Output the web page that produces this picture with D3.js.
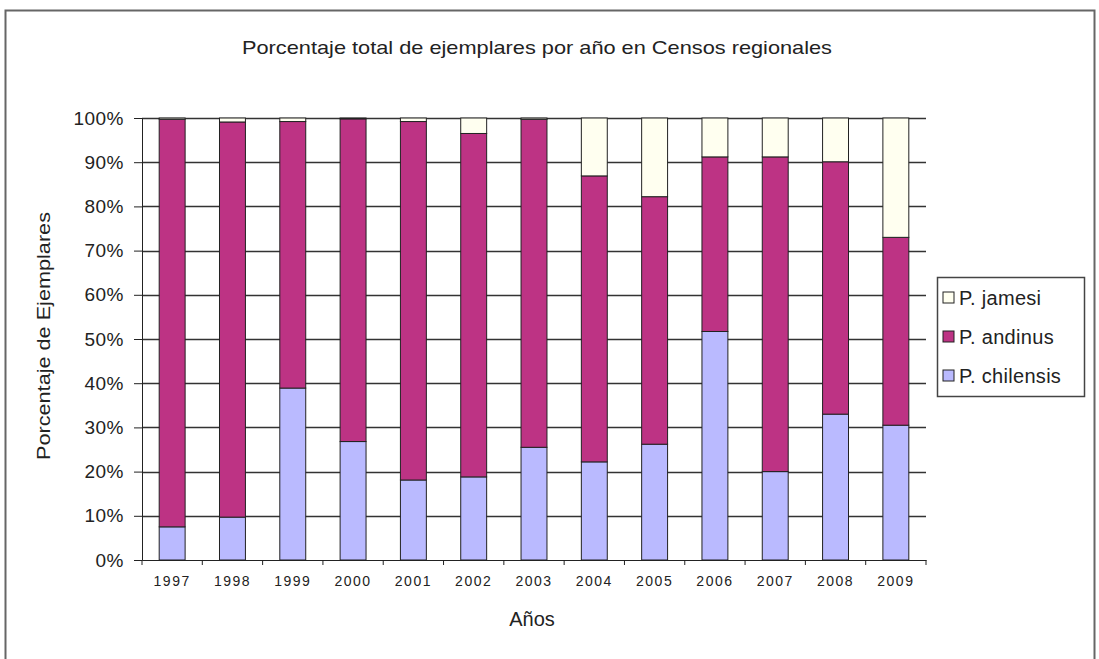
<!DOCTYPE html>
<html>
<head>
<meta charset="utf-8">
<script src="https://cdn.jsdelivr.net/npm/d3@7"></script>
<style>
    body { margin: 0; background: #fff; }
    text { font-family: "Liberation Sans", Arial, sans-serif; fill: #222; }
</style>
</head>
<body>
<div id="chart"></div>
<script>
// data (percent of specimens per year)
let years = ["1997", "1998", "1999", "2000", "2001", "2002", "2003", "2004", "2005", "2006", "2007", "2008", "2009"];
let chilensis = [7.5, 9.7, 38.9, 26.8, 18.1, 18.8, 25.5, 22.2, 26.2, 51.7, 20.0, 33.0, 30.5];
let andinus = [92.2, 89.4, 60.3, 73.0, 81.1, 77.7, 74.2, 64.7, 56.0, 39.5, 71.2, 57.1, 42.5];
let jamesi = [0.3, 0.9, 0.8, 0.2, 0.8, 3.5, 0.3, 13.1, 17.8, 8.8, 8.8, 9.9, 27.0];
let yTicks = [0, 10, 20, 30, 40, 50, 60, 70, 80, 90, 100];

let seriesNames = ["P. chilensis", "P. andinus", "P. jamesi"];
let seriesColors = ["#babaff", "#bd3384", "#fffff0"];

let width = 1099, height = 659;
let plot = {left: 142, right: 926, top: 118, bottom: 560};

let svg = d3.select("#chart").append("svg")
    .attr("width", width)
    .attr("height", height);

// outer frame
svg.append("rect")
    .attr("x", 5.5).attr("y", 10.5)
    .attr("width", 1089).attr("height", 660)
    .attr("fill", "none")
    .attr("stroke", "#666")
    .attr("stroke-width", 2);

// build table for stack
let table = years.map((y, i) => ({year: y, "P. chilensis": chilensis[i], "P. andinus": andinus[i], "P. jamesi": jamesi[i]}));
let stacked = d3.stack().keys(seriesNames)(table);

let x = d3.scaleBand()
    .domain(years)
    .range([plot.left, plot.right])
    .padding(0);

let y = d3.scaleLinear()
    .domain([0, 100])
    .range([plot.bottom, plot.top]);

let barW = x.bandwidth() * 0.43;

// gridlines
svg.append("g")
    .selectAll("line")
    .data(yTicks.slice(1))
    .enter()
    .append("line")
    .attr("x1", plot.left).attr("x2", plot.right)
    .attr("y1", d => Math.round(y(d)) + 0.5)
    .attr("y2", d => Math.round(y(d)) + 0.5)
    .attr("stroke", "#333")
    .attr("stroke-width", 1.3);

// bars
let color = d3.scaleOrdinal().domain(seriesNames).range(seriesColors);

svg.append("g")
    .selectAll("g")
    .data(stacked)
    .enter()
    .append("g")
    .attr("fill", d => color(d.key))
    .selectAll("rect")
    .data(d => d)
    .enter()
    .append("rect")
    .attr("x", d => x(d.data.year) + (x.bandwidth() - barW) / 2)
    .attr("y", d => y(d[1]))
    .attr("width", barW)
    .attr("height", d => y(d[0]) - y(d[1]))
    .attr("stroke", "#222")
    .attr("stroke-width", 1);

// y axis
let yAxis = d3.axisLeft(y)
    .tickValues(yTicks)
    .tickFormat(d => d + "%")
    .tickSize(8)
    .tickPadding(10);

let yG = svg.append("g")
    .attr("transform", `translate(${plot.left},0)`)
    .call(yAxis);
yG.select(".domain").attr("stroke", "#222");
yG.selectAll(".tick line").attr("stroke", "#222");
yG.selectAll(".tick text")
    .style("font-size", "19px")
    .style("letter-spacing", "0.5px")
    .attr("fill", "#222");

// x axis (ticks at category boundaries)
let xG = svg.append("g")
    .attr("transform", `translate(0,${plot.bottom})`)
    .call(d3.axisBottom(x).tickSize(0).tickPadding(16));
xG.select(".domain").attr("stroke", "#222");
xG.selectAll(".tick text")
    .style("font-size", "14px")
    .style("letter-spacing", "1.5px")
    .attr("fill", "#222");

xG.selectAll(".boundary")
    .data(years.concat(["end"]))
    .enter()
    .append("line")
    .attr("class", "boundary")
    .attr("x1", (d, i) => plot.left + i * x.step())
    .attr("x2", (d, i) => plot.left + i * x.step())
    .attr("y1", 0).attr("y2", 5)
    .attr("stroke", "#222");

// title
svg.append("text")
    .attr("x", 537).attr("y", 54)
    .attr("text-anchor", "middle")
    .attr("textLength", 590)
    .attr("lengthAdjust", "spacingAndGlyphs")
    .style("font-size", "19px")
    .text("Porcentaje total de ejemplares por año en Censos regionales");

// axis titles
svg.append("text")
    .attr("transform", "translate(50,336) rotate(-90)")
    .attr("text-anchor", "middle")
    .attr("textLength", 248)
    .attr("lengthAdjust", "spacingAndGlyphs")
    .style("font-size", "19px")
    .text("Porcentaje de Ejemplares");

svg.append("text")
    .attr("x", 532).attr("y", 626)
    .attr("text-anchor", "middle")
    .style("font-size", "20px")
    .text("Años");

// legend
let legend = svg.append("g").attr("transform", "translate(937,277)");
legend.append("rect")
    .attr("x", 0.5).attr("y", 0.5)
    .attr("width", 147).attr("height", 119)
    .attr("fill", "#fff")
    .attr("stroke", "#444")
    .attr("stroke-width", 1.5);

let legendOrder = ["P. jamesi", "P. andinus", "P. chilensis"];
let items = legend.selectAll(".item")
    .data(legendOrder)
    .enter()
    .append("g")
    .attr("class", "item")
    .attr("transform", (d, i) => `translate(6,${21 + i * 39})`);

items.append("rect")
    .attr("x", 0).attr("y", -6)
    .attr("width", 11).attr("height", 11)
    .attr("fill", d => color(d))
    .attr("stroke", "#222");

items.append("text")
    .attr("x", 16).attr("y", 7)
    .style("font-size", "20px")
    .style("letter-spacing", "0.3px")
    .text(d => d);
</script>
</body>
</html>
